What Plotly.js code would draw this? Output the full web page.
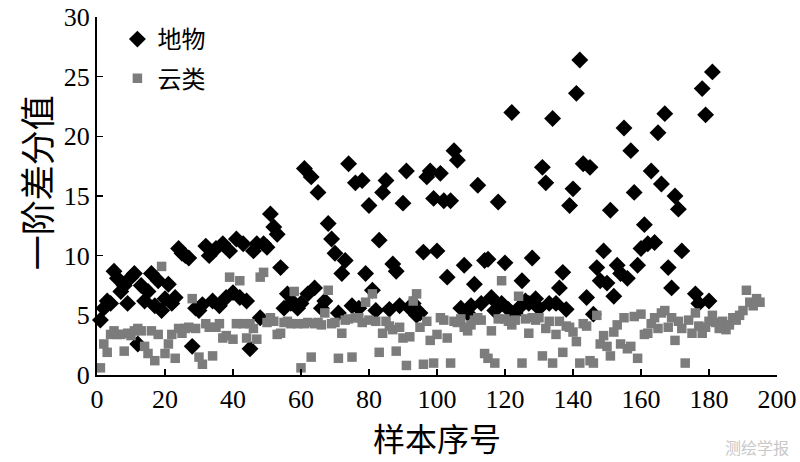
<!DOCTYPE html>
<html>
<head>
<meta charset="utf-8">
<script src="https://cdn.plot.ly/plotly-3.0.1.min.js"></script>
<style>html,body{margin:0;padding:0;background:#fff;}#chart{width:800px;height:462px;}</style>
</head>
<body>
<div id="chart"></div>
<script>
// 地物 (ground objects): sample index and first-order difference value
const groundX = [1,2,3,4,5,6,7,8,9,10,11,12,13,14,15,16,17,18,19,20,21,22,23,24,25,26,27,28,29,30,31,32,33,34,35,36,37,38,39,40,41,42,43,44,45,46,47,48,49,50,51,52,53,54,55,56,57,58,59,60,61,62,63,64,65,66,67,68,69,70,71,72,73,74,75,76,77,78,79,80,81,82,83,84,85,86,87,88,89,90,91,92,93,94,95,96,97,98,99,100,101,102,103,104,105,106,107,108,109,110,111,112,113,114,115,116,117,118,119,120,121,122,123,124,125,126,127,128,129,130,131,132,133,134,135,136,137,138,139,140,141,142,143,144,145,146,147,148,149,150,151,152,153,154,155,156,157,158,159,160,161,162,163,164,165,166,167,168,169,170,171,172,176,177,178,179,180,181];
const groundY = [4.6,5.6,6.2,6.0,8.7,8.1,7.0,7.5,6.0,8.2,8.5,2.6,7.5,6.2,7.0,8.5,5.8,7.9,5.4,6.4,7.6,6.0,6.5,10.6,10.2,10.0,9.8,2.4,5.6,5.4,5.9,10.8,10.0,6.2,10.6,5.8,11.0,6.5,10.4,6.9,11.4,6.5,11.0,6.2,2.2,10.4,11.0,4.8,11.0,10.7,13.5,12.4,11.8,9.0,5.6,6.8,6.0,6.0,5.6,6.0,17.3,6.8,16.6,7.3,15.3,5.6,6.2,12.7,11.4,10.2,5.2,8.5,9.6,17.7,5.8,16.1,5.6,16.3,8.5,14.2,7.1,5.4,11.3,15.3,16.3,5.5,9.3,8.7,5.8,14.4,17.1,5.6,6.0,5.0,5.2,10.3,16.6,17.1,14.8,10.4,16.9,14.6,8.2,14.6,18.8,18.0,5.6,9.2,5.2,5.8,7.6,15.9,6.0,9.6,9.7,6.5,5.4,14.5,6.0,9.4,5.5,22.0,5.2,5.6,7.9,6.2,6.0,9.8,6.4,5.6,17.4,16.1,6.0,21.5,6.0,7.3,8.6,5.5,14.2,15.6,23.6,26.4,17.7,6.5,17.4,5.1,9.0,7.9,10.4,7.7,13.8,6.6,9.2,8.5,20.7,8.1,18.8,15.3,9.2,10.6,12.6,11.0,17.1,11.1,20.3,16.0,21.9,9.0,7.3,15.0,13.9,10.4,6.8,6.0,24.0,21.8,6.2,25.4];

// 云类 (clouds): values for sample index 1..195
const cloudY = [0.6,2.6,1.9,3.4,3.7,3.4,3.4,2.0,3.5,3.3,3.7,3.9,3.7,2.4,1.8,3.7,1.2,3.4,9.1,1.8,2.6,3.4,1.4,3.9,3.5,3.9,4.0,6.4,3.9,1.5,0.9,4.3,4.0,1.6,4.0,4.3,3.1,3.3,8.2,3.0,4.3,7.9,4.3,3.1,4.3,3.9,3.0,8.2,8.6,4.4,4.8,4.5,3.4,3.5,4.4,4.5,4.3,7.0,4.3,0.6,4.3,4.4,1.5,4.3,4.4,4.2,5.2,7.1,4.3,4.4,1.4,3.5,4.6,4.7,1.5,4.8,4.8,4.4,6.1,4.6,6.8,4.5,1.9,3.5,4.5,4.1,3.8,2.0,4.0,3.1,0.8,3.2,6.2,6.8,4.0,0.9,4.5,2.9,1.0,3.4,4.8,4.6,3.1,1.0,4.5,4.4,4.7,4.0,3.7,4.2,4.6,4.8,4.6,1.8,1.4,3.7,1.0,4.7,7.9,4.7,4.5,4.2,4.6,6.6,1.0,4.7,3.5,4.8,4.6,4.8,1.6,3.9,4.5,1.0,3.4,4.5,1.9,4.1,4.0,3.6,2.8,1.0,4.3,4.1,1.2,1.0,5.0,2.6,3.3,2.4,1.6,3.6,4.2,2.6,4.8,2.2,2.4,4.9,1.4,5.1,3.4,3.5,4.3,4.8,3.9,5.2,5.4,4.0,4.8,2.9,4.5,3.9,1.0,4.6,3.5,5.2,4.1,3.5,4.0,4.5,5.0,4.4,3.9,4.5,3.8,4.2,4.8,4.6,5.0,5.4,7.1,6.1,5.8,6.4,6.1];
const cloudX = cloudY.map((v, i) => i + 1);

const xTicks = [0,20,40,60,80,100,120,140,160,180,200];
const yTicks = [0,5,10,15,20,25,30];

const serif = "Liberation Serif, 'Times New Roman', 'Noto Sans CJK SC', serif";
const cjk = "'Noto Sans CJK SC', 'Liberation Serif', serif";

const data = [
  {
    x: groundX, y: groundY, type: 'scatter', mode: 'markers', name: '地物',
    legendgroup: 'g1', cliponaxis: false,
    marker: {symbol: 'diamond', size: 13, color: '#000000', line: {width: 0}}
  },
  {
    x: cloudX, y: cloudY, type: 'scatter', mode: 'markers', name: '云类',
    legendgroup: 'g2', cliponaxis: false,
    marker: {symbol: 'square', size: 9.5, color: '#7c7c7c', line: {width: 0}}
  }
];

const layout = {
  width: 800, height: 462,
  margin: {l: 97, r: 23, t: 17, b: 87},
  paper_bgcolor: '#ffffff', plot_bgcolor: '#ffffff',
  showlegend: true,
  legend: {
    x: 0.03, y: 1.0, xanchor: 'left', yanchor: 'top',
    bgcolor: 'rgba(0,0,0,0)', traceorder: 'grouped', tracegroupgap: 5,
    font: {family: cjk, size: 24, color: '#000'}
  },
  xaxis: {
    range: [0, 200], tickvals: xTicks, ticktext: xTicks.map(String),
    showline: true, linecolor: '#000', linewidth: 2, mirror: false,
    ticks: 'inside', ticklen: 6, tickwidth: 1.5, tickcolor: '#000',
    showgrid: false, zeroline: false,
    tickfont: {family: serif, size: 26, color: '#000'},
    title: {text: '样本序号', font: {family: cjk, size: 32, color: '#000'}, standoff: 4}
  },
  yaxis: {
    range: [0, 30], tickvals: yTicks, ticktext: yTicks.map(String),
    showline: true, linecolor: '#000', linewidth: 2, mirror: false,
    ticks: 'inside', ticklen: 6, tickwidth: 1.5, tickcolor: '#000',
    showgrid: false, zeroline: false,
    tickfont: {family: serif, size: 26, color: '#000'}
  },
  annotations: [
    {text: '一阶差分值', xref: 'paper', yref: 'paper', x: -0.091, y: 0.536, xanchor: 'center', yanchor: 'middle',
     textangle: -90, showarrow: false, font: {family: cjk, size: 35, color: '#000'}},
    {text: '测绘学报', xref: 'paper', yref: 'paper', x: 1.02, y: -0.2, xanchor: 'right', yanchor: 'middle',
     showarrow: false, font: {family: cjk, size: 16, color: '#c8c8c8'}}
  ]
};

Plotly.newPlot('chart', data, layout, {displayModeBar: false, staticPlot: true});
</script>
</body>
</html>
